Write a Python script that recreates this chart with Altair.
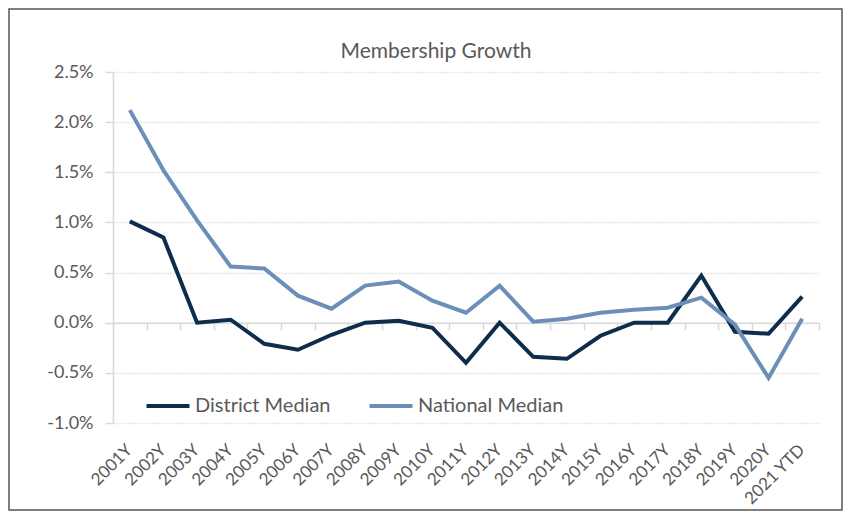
import altair as alt
import pandas as pd

years = ["2001Y", "2002Y", "2003Y", "2004Y", "2005Y", "2006Y", "2007Y", "2008Y",
         "2009Y", "2010Y", "2011Y", "2012Y", "2013Y", "2014Y", "2015Y", "2016Y",
         "2017Y", "2018Y", "2019Y", "2020Y", "2021 YTD"]
district = [1.01, 0.85, 0.00, 0.03, -0.21, -0.27, -0.12, 0.00, 0.02, -0.05, -0.40,
            0.00, -0.34, -0.36, -0.13, 0.00, 0.00, 0.47, -0.09, -0.11, 0.26]
national = [2.12, 1.52, 1.02, 0.56, 0.54, 0.27, 0.14, 0.37, 0.41, 0.22, 0.10,
            0.37, 0.01, 0.04, 0.10, 0.13, 0.15, 0.25, -0.02, -0.55, 0.04]
series = ["District Median", "National Median"]
colors = ["#0e2d4d", "#6b8fb9"]
y_ticks = [-1.0, -0.5, 0.0, 0.5, 1.0, 1.5, 2.0, 2.5]
title_text = "Membership Growth"

rows = []
for i, y in enumerate(years):
    rows.append({"year": y, "series": series[0], "value": district[i] / 100})
    rows.append({"year": y, "series": series[1], "value": national[i] / 100})
df = pd.DataFrame(rows)
one = pd.DataFrame({"t": [title_text]})

FONT = "Lato"
GREY = "#595959"
W, H = 706, 351
ymin, ymax = -0.01, 0.025
zero_offset = -(H - (ymax - 0) / (ymax - ymin) * H)

xscale = alt.Scale(domain=years, paddingInner=0, paddingOuter=0)
yscale = alt.Scale(domain=[ymin, ymax], nice=False)

lines = alt.Chart(df).mark_line(strokeWidth=4, strokeJoin="miter").encode(
    x=alt.X("year:N", sort=years, scale=xscale, title=None,
            axis=alt.Axis(orient="bottom", labelAngle=-45, labelAlign="right",
                          labelBaseline="middle",
                          domain=False, ticks=False, labelPadding=24,
                          labelFontSize=17, labelColor=GREY, labelFont=FONT,
                          grid=False)),
    y=alt.Y("value:Q", scale=yscale, title=None,
            axis=alt.Axis(values=[v / 100 for v in y_ticks], format=".1%",
                          labelExpr="replace(datum.label, '\u2212', '-')",
                          labelFontSize=18, labelColor=GREY, labelFont=FONT,
                          domainColor="#d9d9d9", domainWidth=1.5,
                          tickColor="#d9d9d9", tickSize=8, tickWidth=1.5,
                          labelPadding=12,
                          gridColor="#d0d0d0", gridDash=[1, 2], gridWidth=1.5)),
    color=alt.Color("series:N", sort=series,
                    scale=alt.Scale(domain=series, range=colors),
                    legend=alt.Legend(title=None, orient="none", direction="horizontal",
                                      legendX=31, legendY=310,
                                      symbolType="stroke", symbolStrokeWidth=4,
                                      symbolSize=1850, labelFontSize=20,
                                      labelColor=GREY, labelFont=FONT,
                                      labelOffset=3, columnPadding=30)),
    order=alt.Order("series:N"),
)

zero_axis = alt.Chart(df).mark_point(opacity=0).encode(
    x=alt.X("year:N", sort=years, scale=xscale, title=None,
            axis=alt.Axis(orient="bottom", offset=zero_offset, labels=False,
                          domainColor="#d9d9d9", domainWidth=1.5,
                          tickColor="#d9d9d9", tickWidth=1.5, tickSize=7,
                          tickBand="extent", grid=False)),
)

frame = alt.Chart(one).mark_rect(fill=None, stroke="#555555", strokeWidth=1.5).encode(
    x=alt.value(-104), x2=alt.value(729), y=alt.value(-63), y2=alt.value(438)
)

title = alt.Chart(one).mark_text(font=FONT, fontSize=21, color=GREY, align="center",
                                 baseline="alphabetic", fontWeight="normal").encode(
    x=alt.value(323), y=alt.value(-14), text="t:N"
)

chart = alt.layer(frame, zero_axis, lines, title).resolve_axis(x="independent").properties(
    width=W, height=H,
    autosize=alt.AutoSizeParams(type="none"),
    padding={"left": 105, "top": 64, "right": 24, "bottom": 94},
    background="white",
).configure_view(stroke=None)

chart.save("out.html", embed_options={"renderer": "svg", "actions": False})
